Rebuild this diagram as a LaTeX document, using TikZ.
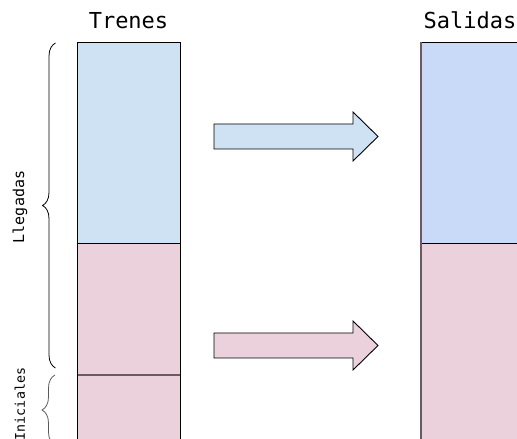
\documentclass[tikz,border=0pt]{standalone}
\usepackage{fontspec}
\setmonofont{DejaVu Sans Mono}
\usetikzlibrary{decorations.pathreplacing}

\definecolor{trainblue}{HTML}{CFE2F3}
\definecolor{outblue}{HTML}{C9DAF8}
\definecolor{trainpink}{HTML}{EAD1DC}
\definecolor{sepgray}{HTML}{6B5A63}

\tikzset{
  border/.style={draw=black, line width=0.9pt},
  title/.style={font=\ttfamily\fontsize{22}{24}\selectfont, anchor=base},
  sidelabel/.style={font=\ttfamily\fontsize{15}{17}\selectfont, rotate=90},
  bracket/.style={decorate, decoration={brace, amplitude=13pt}, line width=0.8pt},
  bigarrow/.style={draw=black, line width=0.9pt, line join=miter},
}

\begin{document}
\begin{tikzpicture}[x=1pt, y=1pt]
  \useasboundingbox (0,0) rectangle (517,439);
  \clip (0,0) rectangle (517,439);

  % column titles
  \node[title] (trenes) at (128.5,410) {Trenes};
  \node[title] (salidas) at (470,410) {Salidas};

  % left column: arrivals (blue) over initial trains (pink)
  \fill[trainblue] (77,196) rectangle (180,397);
  \fill[trainpink] (77,-5) rectangle (180,196);
  \draw[sepgray, line width=1.4pt] (77,64) -- (180,64);
  \draw[border] (77,196) -- (180,196);
  \draw[border] (77,-5) rectangle (180,397);

  % right column: departures
  \fill[outblue] (421,196) rectangle (521,397);
  \fill[trainpink] (421,-5) rectangle (521,196);
  \draw[border] (421,196) -- (521,196);
  \draw[border] (521,397) -- (421,397);
  \draw[draw=sepgray, line width=1.2pt] (421,397) -- (421,-5);

  % block arrows between the columns
  \draw[bigarrow, fill=trainblue]
    (214,290) -- (353,290) -- (353,278) -- (378,302.5) -- (353,327)
    -- (353,315) -- (214,315) -- cycle;
  \draw[bigarrow, fill=trainpink]
    (214,81) -- (353,81) -- (353,69) -- (378,93.5) -- (353,118)
    -- (353,106) -- (214,106) -- cycle;

  % braces with their labels
  \draw[bracket, black] (55.5,71) -- (55.5,396);
  \draw[bracket, black!65] (55,-6) -- (55,64);
  \node[sidelabel] (llegadas) at (20,232) {Llegadas};
  \node[sidelabel, font=\ttfamily\fontsize{13.3}{15}\selectfont] (iniciales) at (20,35) {Iniciales};
\end{tikzpicture}
\end{document}
